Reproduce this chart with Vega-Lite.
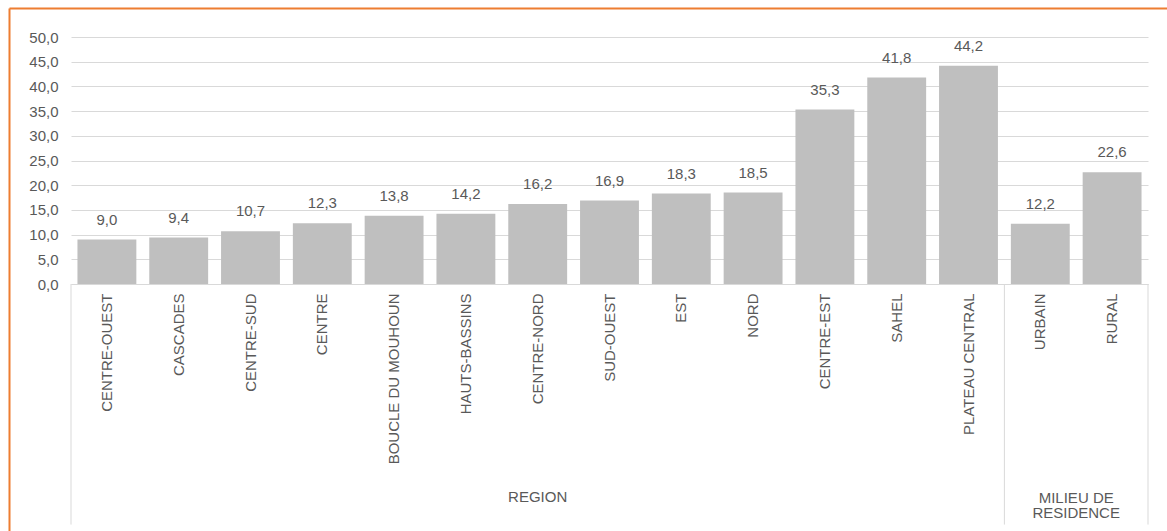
{
  "$schema": "https://vega.github.io/schema/vega-lite/v6.json",
  "width": 1158,
  "height": 523,
  "autosize": {"type": "none"},
  "padding": {"left": 9, "top": 8, "right": 0, "bottom": 0},
  "background": "white",
  "config": {
    "locale": {"number": {"decimal": ",", "thousands": " ", "grouping": [3], "currency": ["", " €"]}},
    "view": {"stroke": null},
    "font": "Liberation Sans",
    "axis": {"labelFont": "Liberation Sans", "labelFontSize": 15, "labelColor": "#595959"}
  },
  "datasets": {
    "bars": [
      {"category": "CENTRE-OUEST", "value": 9.0},
      {"category": "CASCADES", "value": 9.4},
      {"category": "CENTRE-SUD", "value": 10.7},
      {"category": "CENTRE", "value": 12.3},
      {"category": "BOUCLE DU MOUHOUN", "value": 13.8},
      {"category": "HAUTS-BASSINS", "value": 14.2},
      {"category": "CENTRE-NORD", "value": 16.2},
      {"category": "SUD-OUEST", "value": 16.9},
      {"category": "EST", "value": 18.3},
      {"category": "NORD", "value": 18.5},
      {"category": "CENTRE-EST", "value": 35.3},
      {"category": "SAHEL", "value": 41.8},
      {"category": "PLATEAU CENTRAL", "value": 44.2},
      {"category": "URBAIN", "value": 12.2},
      {"category": "RURAL", "value": 22.6}
    ],
    "groupStarts": [
      {"category": "CENTRE-OUEST"},
      {"category": "URBAIN"}
    ],
    "groupEnds": [
      {"category": "RURAL"}
    ],
    "regionLabel": [
      {"category": "CENTRE-NORD", "group": "REGION"}
    ],
    "milieuLabel": [
      {"category": "RURAL", "group": "MILIEU DE\nRESIDENCE"}
    ],
    "frame": [
      {"edge": 0}
    ]
  },
  "layer": [
    {
      "layer": [
        {
          "data": {"name": "bars"},
          "mark": {"type": "bar", "width": {"band": 0.82}, "color": "#BFBFBF"},
          "encoding": {
            "x": {
              "field": "category",
              "type": "nominal",
              "scale": {
                "domain": ["CENTRE-OUEST", "CASCADES", "CENTRE-SUD", "CENTRE", "BOUCLE DU MOUHOUN", "HAUTS-BASSINS", "CENTRE-NORD", "SUD-OUEST", "EST", "NORD", "CENTRE-EST", "SAHEL", "PLATEAU CENTRAL", "URBAIN", "RURAL"],
                "range": [62, 1139],
                "paddingInner": 0,
                "paddingOuter": 0
              },
              "axis": {
                "title": null,
                "orient": "bottom",
                "offset": -247,
                "labelAngle": -90,
                "labelPadding": 9,
                "labelLimit": 400,
                "labelOverlap": false,
                "ticks": false,
                "domainColor": "#D9D9D9",
                "domainWidth": 1,
                "grid": false
              }
            },
            "y": {
              "field": "value",
              "type": "quantitative",
              "scale": {"domain": [0, 50], "range": [276, 29], "nice": false},
              "axis": {
                "title": null,
                "orient": "left",
                "offset": -62,
                "values": [0, 5, 10, 15, 20, 25, 30, 35, 40, 45, 50],
                "format": ".1f",
                "domain": false,
                "ticks": false,
                "grid": true,
                "gridColor": "#D9D9D9",
                "gridWidth": 1,
                "labelPadding": 13
              }
            }
          }
        },
        {
          "data": {"name": "bars"},
          "mark": {"type": "text", "fontSize": 15, "color": "#595959", "baseline": "alphabetic", "dy": -15, "font": "Liberation Sans"},
          "encoding": {
            "x": {"field": "category", "type": "nominal"},
            "y": {"field": "value", "type": "quantitative"},
            "text": {"field": "value", "type": "quantitative", "format": ".1f"}
          }
        },
        {
          "data": {"name": "groupStarts"},
          "mark": {"type": "rule", "color": "#D9D9D9", "strokeWidth": 1},
          "encoding": {
            "x": {"field": "category", "type": "nominal", "bandPosition": 0},
            "y": {"datum": 0},
            "y2": {"datum": -48.7}
          }
        },
        {
          "data": {"name": "groupEnds"},
          "mark": {"type": "rule", "color": "#D9D9D9", "strokeWidth": 1},
          "encoding": {
            "x": {"field": "category", "type": "nominal", "bandPosition": 1},
            "y": {"datum": 0},
            "y2": {"datum": -48.7}
          }
        },
        {
          "data": {"name": "regionLabel"},
          "mark": {"type": "text", "fontSize": 15, "color": "#595959", "baseline": "alphabetic", "font": "Liberation Sans"},
          "encoding": {
            "x": {"field": "category", "type": "nominal"},
            "y": {"datum": -44.1},
            "text": {"field": "group", "type": "nominal"}
          }
        },
        {
          "data": {"name": "milieuLabel"},
          "mark": {"type": "text", "fontSize": 15, "color": "#595959", "baseline": "alphabetic", "lineBreak": "\n", "lineHeight": 15, "font": "Liberation Sans"},
          "encoding": {
            "x": {"field": "category", "type": "nominal", "bandPosition": 0},
            "y": {"datum": -44.3},
            "text": {"field": "group", "type": "nominal"}
          }
        }
      ]
    },
    {
      "data": {"name": "frame"},
      "mark": {"type": "text", "text": "", "opacity": 0},
      "encoding": {
        "x": {
          "field": "edge",
          "type": "quantitative",
          "scale": {"domain": [0, 1], "range": [0, 1158], "nice": false, "zero": false},
          "axis": {"orient": "top", "title": null, "labels": false, "ticks": false, "grid": false, "domain": true, "domainColor": "#ED7D31", "domainWidth": 2}
        },
        "y": {
          "field": "edge",
          "type": "quantitative",
          "scale": {"domain": [0, 1], "range": [0, 523], "nice": false, "zero": false},
          "axis": {"orient": "left", "title": null, "labels": false, "ticks": false, "grid": false, "domain": true, "domainColor": "#ED7D31", "domainWidth": 2}
        }
      }
    }
  ],
  "resolve": {
    "scale": {"x": "independent", "y": "independent"},
    "axis": {"x": "independent", "y": "independent"}
  }
}
